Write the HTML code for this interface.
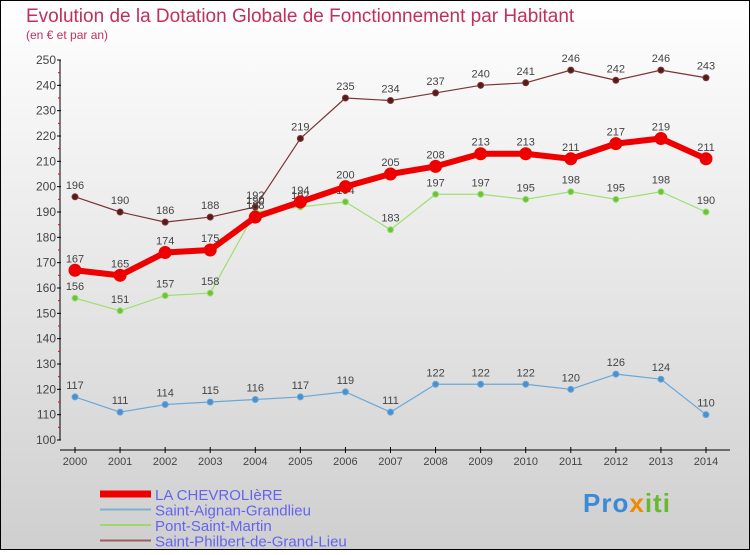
<!DOCTYPE html>
<html><head><meta charset="utf-8"><style>
html,body{margin:0;padding:0}
body{width:750px;height:550px;overflow:hidden;font-family:"Liberation Sans",sans-serif}
</style></head><body>
<svg id="chart" width="750" height="550" xmlns="http://www.w3.org/2000/svg">
<defs><linearGradient id="bg" x1="0" y1="0" x2="0" y2="1"><stop offset="0" stop-color="#ffffff"/><stop offset="1" stop-color="#cfcfcf"/></linearGradient></defs>
<rect x="0.5" y="0.5" width="749" height="549" fill="url(#bg)" stroke="#000"/>
<text x="26" y="22" font-size="19" fill="#c0305a">Evolution de la Dotation Globale de Fonctionnement par Habitant</text>
<text x="26" y="39" font-size="12" fill="#c0305a">(en € et par an)</text>
<g id="axes"></g>
<g id="series"></g>
<g id="legend"></g>
</svg>
<script>
const years=[2000,2001,2002,2003,2004,2005,2006,2007,2008,2009,2010,2011,2012,2013,2014];
const yTicks=[100,110,120,130,140,150,160,170,180,190,200,210,220,230,240,250];
const chev=[167,165,174,175,188,194,200,205,208,213,213,211,217,219,211];
const aignan=[117,111,114,115,116,117,119,111,122,122,122,120,126,124,110];
const pont=[156,151,157,158,190,192,194,183,197,197,195,198,195,198,190];
const philbert=[196,190,186,188,192,219,235,234,237,240,241,246,242,246,243];
const seriesNames=["LA CHEVROLIèRE","Saint-Aignan-Grandlieu","Pont-Saint-Martin","Saint-Philbert-de-Grand-Lieu"];
const NS="http://www.w3.org/2000/svg";
const X=i=>75+i*(706-75)/(years.length-1);
const Y=v=>440-(v-100)*380/150;
function mk(tag,attrs,parent,txt){const e=document.createElementNS(NS,tag);for(const k in attrs)e.setAttribute(k,attrs[k]);if(txt!==undefined)e.textContent=txt;parent.appendChild(e);return e;}
const axes=document.getElementById('axes');
let a=mk('line',{x1:60,y1:Y(250),x2:60,y2:Y(100),stroke:'#000'},axes);


a=mk('line',{x1:60,y1:450,x2:730,y2:450,stroke:'#000'},axes);


yTicks.forEach(t=>{
 mk('line',{x1:57,y1:Y(t),x2:61,y2:Y(t),stroke:'#000'},axes);
 if(t<250) mk('line',{x1:58,y1:Y(t+5),x2:60,y2:Y(t+5),stroke:'#e00'},axes);
 const l=mk('text',{x:56,y:Y(t)+4,'font-size':12,fill:'#444','text-anchor':'end'},axes,t);
 
 
});
years.forEach((yr,i)=>{
 mk('line',{x1:X(i),y1:447,x2:X(i),y2:453,stroke:'#000'},axes);
 const l=mk('text',{x:X(i),y:465,'font-size':11,fill:'#444','text-anchor':'middle'},axes,yr);
 
 
});
const sg=document.getElementById('series');
function draw(data,color,dot,w,r,name){
 const g=mk('g',{},sg);
 
 
 mk('polyline',{points:data.map((v,i)=>X(i)+','+Y(v)).join(' '),fill:'none',stroke:color,'stroke-width':w,'stroke-linejoin':'round'},g);
 data.forEach((v,i)=>{
  const c=mk('circle',{cx:X(i),cy:Y(v),r:r,fill:dot,stroke:color,'stroke-width':1},g);
  
  
  const t=mk('text',{x:X(i),y:Y(v)-8,'font-size':11,fill:'#444','text-anchor':'middle'},g,v);
  
  
 });
}
draw(aignan,'#6aa8d8','#4a90d0',1.2,3,'series-saint-aignan');
draw(pont,'#9ee070','#6cc040',1.2,3,'series-pont-saint-martin');
draw(philbert,'#7a3535','#5a1a1a',1.2,3,'series-saint-philbert');
draw(chev,'#ee0000','#ee0000',6,6,'series-la-chevroliere');
const lg=document.getElementById('legend');
const cols=['#ee0000','#7fb0d0','#9ed870','#9a6060'],ws=[7,2,2,2];
seriesNames.forEach((n,i)=>{
 const y=494+i*15.5;
 const g=mk('g',{},lg);
 
 
 mk('line',{x1:100,y1:y,x2:151,y2:y,stroke:cols[i],'stroke-width':ws[i]},g);
 mk('text',{x:155,y:y+6,'font-size':15,fill:'#6464f0'},g,n);
});
</script>
<div style="position:absolute;left:583px;top:488px;font:bold 26px 'Liberation Sans',sans-serif;letter-spacing:1px"><span style="color:#3a8ad8">Pro</span><span style="color:#f08a00">x</span><span style="color:#6ab830">iti</span></div>
</body></html>
